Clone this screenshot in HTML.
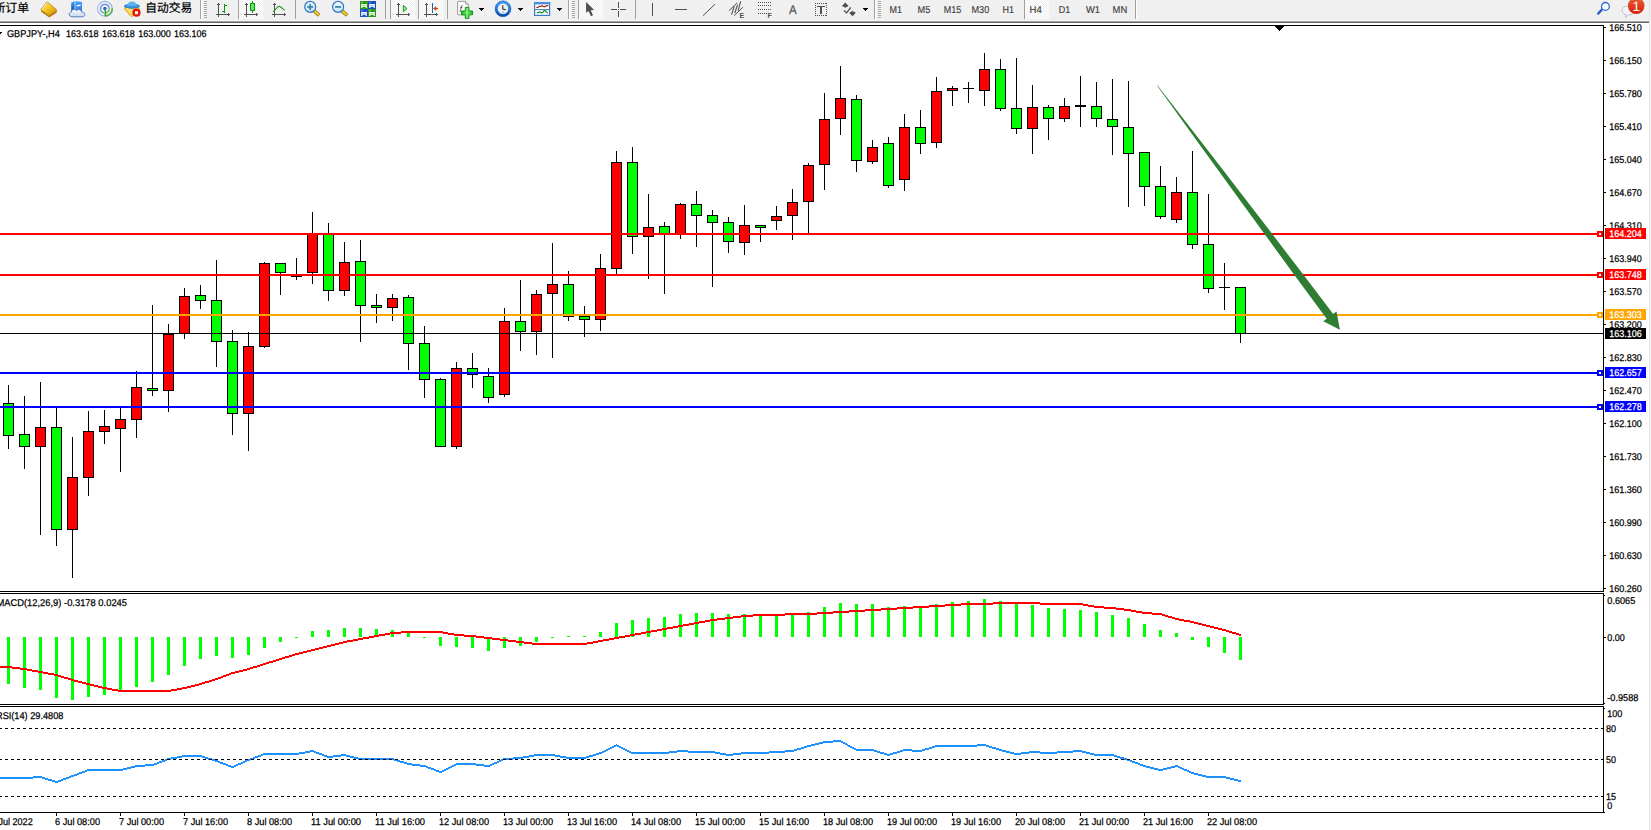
<!DOCTYPE html>
<html lang="zh-CN">
<head>
<meta charset="utf-8">
<title>GBPJPY-,H4</title>
<style>
html,body{margin:0;padding:0;background:#fff;overflow:hidden}
body{width:1651px;height:830px;position:relative;font-family:"Liberation Sans", "Noto Sans CJK SC", sans-serif}
svg{position:absolute;left:0;top:0;display:block}
text{font-family:"Liberation Sans", "Noto Sans CJK SC", sans-serif;white-space:pre}
</style>
</head>
<body>
<svg width="1651" height="830" viewBox="0 0 1651 830" text-rendering="geometricPrecision">
<g shape-rendering="crispEdges">
<rect x="0" y="23" width="1649" height="807" fill="#fff"/>
<rect x="1649" y="0" width="1" height="830" fill="#e3e3e3"/>
<rect x="1650" y="0" width="1" height="830" fill="#f4f4f4"/>
<rect x="0" y="25" width="1604" height="1" fill="#000" />
<rect x="0" y="591" width="1604" height="1" fill="#000" />
<rect x="0" y="593" width="1604" height="1" fill="#000" />
<rect x="0" y="704" width="1604" height="1" fill="#000" />
<rect x="0" y="706" width="1604" height="1" fill="#000" />
<rect x="0" y="812" width="1604" height="1" fill="#000" />
<rect x="1603" y="25" width="1" height="567" fill="#000"/>
<rect x="1603" y="593" width="1" height="112" fill="#000"/>
<rect x="1603" y="706" width="1" height="107" fill="#000"/>
<rect x="1604" y="595" width="1" height="1" fill="#000" />
<rect x="1604" y="703" width="1" height="1" fill="#000" />
<rect x="1604" y="708" width="1" height="1" fill="#000" />
<rect x="1604" y="812" width="1" height="1" fill="#000" />
<rect x="8" y="385" width="1" height="64" fill="#000"/>
<rect x="3" y="403" width="11" height="33" fill="#000"/>
<rect x="4" y="404" width="9" height="31" fill="#00ff00"/>
<rect x="24" y="396" width="1" height="73" fill="#000"/>
<rect x="19" y="434" width="11" height="13" fill="#000"/>
<rect x="20" y="435" width="9" height="11" fill="#00ff00"/>
<rect x="40" y="382" width="1" height="153" fill="#000"/>
<rect x="35" y="427" width="11" height="20" fill="#000"/>
<rect x="36" y="428" width="9" height="18" fill="#ff0000"/>
<rect x="56" y="407" width="1" height="139" fill="#000"/>
<rect x="51" y="427" width="11" height="103" fill="#000"/>
<rect x="52" y="428" width="9" height="101" fill="#00ff00"/>
<rect x="72" y="437" width="1" height="141" fill="#000"/>
<rect x="67" y="477" width="11" height="53" fill="#000"/>
<rect x="68" y="478" width="9" height="51" fill="#ff0000"/>
<rect x="88" y="411" width="1" height="85" fill="#000"/>
<rect x="83" y="431" width="11" height="47" fill="#000"/>
<rect x="84" y="432" width="9" height="45" fill="#ff0000"/>
<rect x="104" y="410" width="1" height="34" fill="#000"/>
<rect x="99" y="426" width="11" height="6" fill="#000"/>
<rect x="100" y="427" width="9" height="4" fill="#ff0000"/>
<rect x="120" y="407" width="1" height="65" fill="#000"/>
<rect x="115" y="419" width="11" height="10" fill="#000"/>
<rect x="116" y="420" width="9" height="8" fill="#ff0000"/>
<rect x="136" y="371" width="1" height="67" fill="#000"/>
<rect x="131" y="387" width="11" height="33" fill="#000"/>
<rect x="132" y="388" width="9" height="31" fill="#ff0000"/>
<rect x="152" y="305" width="1" height="91" fill="#000"/>
<rect x="147" y="388" width="11" height="3" fill="#000"/>
<rect x="148" y="389" width="9" height="1" fill="#00ff00"/>
<rect x="168" y="324" width="1" height="88" fill="#000"/>
<rect x="163" y="334" width="11" height="57" fill="#000"/>
<rect x="164" y="335" width="9" height="55" fill="#ff0000"/>
<rect x="184" y="288" width="1" height="51" fill="#000"/>
<rect x="179" y="296" width="11" height="38" fill="#000"/>
<rect x="180" y="297" width="9" height="36" fill="#ff0000"/>
<rect x="200" y="285" width="1" height="24" fill="#000"/>
<rect x="195" y="295" width="11" height="6" fill="#000"/>
<rect x="196" y="296" width="9" height="4" fill="#00ff00"/>
<rect x="216" y="260" width="1" height="107" fill="#000"/>
<rect x="211" y="300" width="11" height="42" fill="#000"/>
<rect x="212" y="301" width="9" height="40" fill="#00ff00"/>
<rect x="232" y="330" width="1" height="105" fill="#000"/>
<rect x="227" y="341" width="11" height="73" fill="#000"/>
<rect x="228" y="342" width="9" height="71" fill="#00ff00"/>
<rect x="248" y="332" width="1" height="119" fill="#000"/>
<rect x="243" y="346" width="11" height="68" fill="#000"/>
<rect x="244" y="347" width="9" height="66" fill="#ff0000"/>
<rect x="264" y="262" width="1" height="86" fill="#000"/>
<rect x="259" y="263" width="11" height="84" fill="#000"/>
<rect x="260" y="264" width="9" height="82" fill="#ff0000"/>
<rect x="280" y="263" width="1" height="32" fill="#000"/>
<rect x="275" y="263" width="11" height="10" fill="#000"/>
<rect x="276" y="264" width="9" height="8" fill="#00ff00"/>
<rect x="296" y="258" width="1" height="22" fill="#000"/>
<rect x="291" y="276" width="11" height="1" fill="#000" />
<rect x="312" y="212" width="1" height="72" fill="#000"/>
<rect x="307" y="233" width="11" height="40" fill="#000"/>
<rect x="308" y="234" width="9" height="38" fill="#ff0000"/>
<rect x="328" y="223" width="1" height="78" fill="#000"/>
<rect x="323" y="233" width="11" height="58" fill="#000"/>
<rect x="324" y="234" width="9" height="56" fill="#00ff00"/>
<rect x="344" y="242" width="1" height="54" fill="#000"/>
<rect x="339" y="262" width="11" height="29" fill="#000"/>
<rect x="340" y="263" width="9" height="27" fill="#ff0000"/>
<rect x="360" y="240" width="1" height="102" fill="#000"/>
<rect x="355" y="261" width="11" height="45" fill="#000"/>
<rect x="356" y="262" width="9" height="43" fill="#00ff00"/>
<rect x="376" y="294" width="1" height="29" fill="#000"/>
<rect x="371" y="305" width="11" height="3" fill="#000"/>
<rect x="372" y="306" width="9" height="1" fill="#00ff00"/>
<rect x="392" y="294" width="1" height="27" fill="#000"/>
<rect x="387" y="298" width="11" height="10" fill="#000"/>
<rect x="388" y="299" width="9" height="8" fill="#ff0000"/>
<rect x="408" y="295" width="1" height="75" fill="#000"/>
<rect x="403" y="297" width="11" height="47" fill="#000"/>
<rect x="404" y="298" width="9" height="45" fill="#00ff00"/>
<rect x="424" y="326" width="1" height="72" fill="#000"/>
<rect x="419" y="343" width="11" height="37" fill="#000"/>
<rect x="420" y="344" width="9" height="35" fill="#00ff00"/>
<rect x="440" y="378" width="1" height="69" fill="#000"/>
<rect x="435" y="379" width="11" height="68" fill="#000"/>
<rect x="436" y="380" width="9" height="66" fill="#00ff00"/>
<rect x="456" y="362" width="1" height="87" fill="#000"/>
<rect x="451" y="368" width="11" height="79" fill="#000"/>
<rect x="452" y="369" width="9" height="77" fill="#ff0000"/>
<rect x="472" y="353" width="1" height="35" fill="#000"/>
<rect x="467" y="368" width="11" height="7" fill="#000"/>
<rect x="468" y="369" width="9" height="5" fill="#00ff00"/>
<rect x="488" y="368" width="1" height="35" fill="#000"/>
<rect x="483" y="376" width="11" height="22" fill="#000"/>
<rect x="484" y="377" width="9" height="20" fill="#00ff00"/>
<rect x="504" y="308" width="1" height="89" fill="#000"/>
<rect x="499" y="321" width="11" height="74" fill="#000"/>
<rect x="500" y="322" width="9" height="72" fill="#ff0000"/>
<rect x="520" y="280" width="1" height="71" fill="#000"/>
<rect x="515" y="321" width="11" height="11" fill="#000"/>
<rect x="516" y="322" width="9" height="9" fill="#00ff00"/>
<rect x="536" y="290" width="1" height="65" fill="#000"/>
<rect x="531" y="294" width="11" height="38" fill="#000"/>
<rect x="532" y="295" width="9" height="36" fill="#ff0000"/>
<rect x="552" y="243" width="1" height="115" fill="#000"/>
<rect x="547" y="284" width="11" height="10" fill="#000"/>
<rect x="548" y="285" width="9" height="8" fill="#ff0000"/>
<rect x="568" y="271" width="1" height="50" fill="#000"/>
<rect x="563" y="284" width="11" height="33" fill="#000"/>
<rect x="564" y="285" width="9" height="31" fill="#00ff00"/>
<rect x="584" y="306" width="1" height="31" fill="#000"/>
<rect x="579" y="316" width="11" height="4" fill="#000"/>
<rect x="580" y="317" width="9" height="2" fill="#00ff00"/>
<rect x="600" y="254" width="1" height="77" fill="#000"/>
<rect x="595" y="268" width="11" height="52" fill="#000"/>
<rect x="596" y="269" width="9" height="50" fill="#ff0000"/>
<rect x="616" y="151" width="1" height="123" fill="#000"/>
<rect x="611" y="162" width="11" height="107" fill="#000"/>
<rect x="612" y="163" width="9" height="105" fill="#ff0000"/>
<rect x="632" y="147" width="1" height="107" fill="#000"/>
<rect x="627" y="162" width="11" height="75" fill="#000"/>
<rect x="628" y="163" width="9" height="73" fill="#00ff00"/>
<rect x="648" y="194" width="1" height="85" fill="#000"/>
<rect x="643" y="227" width="11" height="10" fill="#000"/>
<rect x="644" y="228" width="9" height="8" fill="#ff0000"/>
<rect x="664" y="222" width="1" height="72" fill="#000"/>
<rect x="659" y="226" width="11" height="8" fill="#000"/>
<rect x="660" y="227" width="9" height="6" fill="#00ff00"/>
<rect x="680" y="203" width="1" height="36" fill="#000"/>
<rect x="675" y="204" width="11" height="31" fill="#000"/>
<rect x="676" y="205" width="9" height="29" fill="#ff0000"/>
<rect x="696" y="191" width="1" height="56" fill="#000"/>
<rect x="691" y="204" width="11" height="12" fill="#000"/>
<rect x="692" y="205" width="9" height="10" fill="#00ff00"/>
<rect x="712" y="210" width="1" height="77" fill="#000"/>
<rect x="707" y="215" width="11" height="8" fill="#000"/>
<rect x="708" y="216" width="9" height="6" fill="#00ff00"/>
<rect x="728" y="217" width="1" height="36" fill="#000"/>
<rect x="723" y="222" width="11" height="20" fill="#000"/>
<rect x="724" y="223" width="9" height="18" fill="#00ff00"/>
<rect x="744" y="205" width="1" height="50" fill="#000"/>
<rect x="739" y="225" width="11" height="18" fill="#000"/>
<rect x="740" y="226" width="9" height="16" fill="#ff0000"/>
<rect x="760" y="225" width="1" height="17" fill="#000"/>
<rect x="755" y="225" width="11" height="3" fill="#000"/>
<rect x="756" y="226" width="9" height="1" fill="#00ff00"/>
<rect x="776" y="206" width="1" height="24" fill="#000"/>
<rect x="771" y="216" width="11" height="5" fill="#000"/>
<rect x="772" y="217" width="9" height="3" fill="#ff0000"/>
<rect x="792" y="189" width="1" height="51" fill="#000"/>
<rect x="787" y="202" width="11" height="14" fill="#000"/>
<rect x="788" y="203" width="9" height="12" fill="#ff0000"/>
<rect x="808" y="163" width="1" height="70" fill="#000"/>
<rect x="803" y="165" width="11" height="37" fill="#000"/>
<rect x="804" y="166" width="9" height="35" fill="#ff0000"/>
<rect x="824" y="93" width="1" height="97" fill="#000"/>
<rect x="819" y="119" width="11" height="46" fill="#000"/>
<rect x="820" y="120" width="9" height="44" fill="#ff0000"/>
<rect x="840" y="66" width="1" height="69" fill="#000"/>
<rect x="835" y="98" width="11" height="21" fill="#000"/>
<rect x="836" y="99" width="9" height="19" fill="#ff0000"/>
<rect x="856" y="95" width="1" height="77" fill="#000"/>
<rect x="851" y="99" width="11" height="62" fill="#000"/>
<rect x="852" y="100" width="9" height="60" fill="#00ff00"/>
<rect x="872" y="140" width="1" height="24" fill="#000"/>
<rect x="867" y="147" width="11" height="15" fill="#000"/>
<rect x="868" y="148" width="9" height="13" fill="#ff0000"/>
<rect x="888" y="137" width="1" height="51" fill="#000"/>
<rect x="883" y="143" width="11" height="43" fill="#000"/>
<rect x="884" y="144" width="9" height="41" fill="#00ff00"/>
<rect x="904" y="114" width="1" height="77" fill="#000"/>
<rect x="899" y="127" width="11" height="53" fill="#000"/>
<rect x="900" y="128" width="9" height="51" fill="#ff0000"/>
<rect x="920" y="110" width="1" height="44" fill="#000"/>
<rect x="915" y="127" width="11" height="17" fill="#000"/>
<rect x="916" y="128" width="9" height="15" fill="#00ff00"/>
<rect x="936" y="77" width="1" height="71" fill="#000"/>
<rect x="931" y="91" width="11" height="52" fill="#000"/>
<rect x="932" y="92" width="9" height="50" fill="#ff0000"/>
<rect x="952" y="86" width="1" height="20" fill="#000"/>
<rect x="947" y="88" width="11" height="3" fill="#000"/>
<rect x="948" y="89" width="9" height="1" fill="#ff0000"/>
<rect x="968" y="82" width="1" height="21" fill="#000"/>
<rect x="963" y="88" width="11" height="1" fill="#000" />
<rect x="984" y="53" width="1" height="53" fill="#000"/>
<rect x="979" y="69" width="11" height="22" fill="#000"/>
<rect x="980" y="70" width="9" height="20" fill="#ff0000"/>
<rect x="1000" y="59" width="1" height="52" fill="#000"/>
<rect x="995" y="69" width="11" height="40" fill="#000"/>
<rect x="996" y="70" width="9" height="38" fill="#00ff00"/>
<rect x="1016" y="58" width="1" height="76" fill="#000"/>
<rect x="1011" y="108" width="11" height="21" fill="#000"/>
<rect x="1012" y="109" width="9" height="19" fill="#00ff00"/>
<rect x="1032" y="85" width="1" height="69" fill="#000"/>
<rect x="1027" y="107" width="11" height="22" fill="#000"/>
<rect x="1028" y="108" width="9" height="20" fill="#ff0000"/>
<rect x="1048" y="105" width="1" height="35" fill="#000"/>
<rect x="1043" y="107" width="11" height="12" fill="#000"/>
<rect x="1044" y="108" width="9" height="10" fill="#00ff00"/>
<rect x="1064" y="98" width="1" height="24" fill="#000"/>
<rect x="1059" y="106" width="11" height="13" fill="#000"/>
<rect x="1060" y="107" width="9" height="11" fill="#ff0000"/>
<rect x="1080" y="76" width="1" height="51" fill="#000"/>
<rect x="1075" y="105" width="11" height="2" fill="#000"/>
<rect x="1096" y="82" width="1" height="45" fill="#000"/>
<rect x="1091" y="106" width="11" height="13" fill="#000"/>
<rect x="1092" y="107" width="9" height="11" fill="#00ff00"/>
<rect x="1112" y="79" width="1" height="76" fill="#000"/>
<rect x="1107" y="119" width="11" height="8" fill="#000"/>
<rect x="1108" y="120" width="9" height="6" fill="#00ff00"/>
<rect x="1128" y="81" width="1" height="126" fill="#000"/>
<rect x="1123" y="127" width="11" height="27" fill="#000"/>
<rect x="1124" y="128" width="9" height="25" fill="#00ff00"/>
<rect x="1144" y="152" width="1" height="54" fill="#000"/>
<rect x="1139" y="152" width="11" height="35" fill="#000"/>
<rect x="1140" y="153" width="9" height="33" fill="#00ff00"/>
<rect x="1160" y="166" width="1" height="53" fill="#000"/>
<rect x="1155" y="186" width="11" height="31" fill="#000"/>
<rect x="1156" y="187" width="9" height="29" fill="#00ff00"/>
<rect x="1176" y="177" width="1" height="46" fill="#000"/>
<rect x="1171" y="192" width="11" height="28" fill="#000"/>
<rect x="1172" y="193" width="9" height="26" fill="#ff0000"/>
<rect x="1192" y="151" width="1" height="98" fill="#000"/>
<rect x="1187" y="192" width="11" height="53" fill="#000"/>
<rect x="1188" y="193" width="9" height="51" fill="#00ff00"/>
<rect x="1208" y="194" width="1" height="99" fill="#000"/>
<rect x="1203" y="244" width="11" height="45" fill="#000"/>
<rect x="1204" y="245" width="9" height="43" fill="#00ff00"/>
<rect x="1224" y="263" width="1" height="47" fill="#000"/>
<rect x="1219" y="287" width="11" height="1" fill="#000" />
<rect x="1240" y="287" width="1" height="56" fill="#000"/>
<rect x="1235" y="287" width="11" height="47" fill="#000"/>
<rect x="1236" y="288" width="9" height="45" fill="#00ff00"/>
<rect x="0" y="233" width="1603" height="2" fill="#ff0000" />
<rect x="0" y="274" width="1603" height="2" fill="#ff0000" />
<rect x="0" y="314" width="1603" height="2" fill="#ffa500" />
<rect x="0" y="372" width="1603" height="2" fill="#0000ff" />
<rect x="0" y="406" width="1603" height="2" fill="#0000ff" />
<rect x="0" y="333" width="1603" height="1" fill="#000" />
<rect x="7" y="637" width="3" height="47" fill="#00ff00"/>
<rect x="23" y="637" width="3" height="51" fill="#00ff00"/>
<rect x="39" y="637" width="3" height="53" fill="#00ff00"/>
<rect x="55" y="637" width="3" height="61" fill="#00ff00"/>
<rect x="71" y="637" width="3" height="63" fill="#00ff00"/>
<rect x="87" y="637" width="3" height="60" fill="#00ff00"/>
<rect x="103" y="637" width="3" height="58" fill="#00ff00"/>
<rect x="119" y="637" width="3" height="55" fill="#00ff00"/>
<rect x="135" y="637" width="3" height="50" fill="#00ff00"/>
<rect x="151" y="637" width="3" height="45" fill="#00ff00"/>
<rect x="167" y="637" width="3" height="38" fill="#00ff00"/>
<rect x="183" y="637" width="3" height="29" fill="#00ff00"/>
<rect x="199" y="637" width="3" height="22" fill="#00ff00"/>
<rect x="215" y="637" width="3" height="19" fill="#00ff00"/>
<rect x="231" y="637" width="3" height="21" fill="#00ff00"/>
<rect x="247" y="637" width="3" height="18" fill="#00ff00"/>
<rect x="263" y="637" width="3" height="11" fill="#00ff00"/>
<rect x="279" y="637" width="3" height="5" fill="#00ff00"/>
<rect x="295" y="637" width="3" height="1" fill="#00ff00"/>
<rect x="311" y="631" width="3" height="6" fill="#00ff00"/>
<rect x="327" y="630" width="3" height="7" fill="#00ff00"/>
<rect x="343" y="628" width="3" height="9" fill="#00ff00"/>
<rect x="359" y="628" width="3" height="9" fill="#00ff00"/>
<rect x="375" y="629" width="3" height="8" fill="#00ff00"/>
<rect x="391" y="630" width="3" height="7" fill="#00ff00"/>
<rect x="407" y="633" width="3" height="4" fill="#00ff00"/>
<rect x="423" y="637" width="3" height="1" fill="#00ff00"/>
<rect x="439" y="637" width="3" height="9" fill="#00ff00"/>
<rect x="455" y="637" width="3" height="10" fill="#00ff00"/>
<rect x="471" y="637" width="3" height="11" fill="#00ff00"/>
<rect x="487" y="637" width="3" height="14" fill="#00ff00"/>
<rect x="503" y="637" width="3" height="11" fill="#00ff00"/>
<rect x="519" y="637" width="3" height="9" fill="#00ff00"/>
<rect x="535" y="637" width="3" height="5" fill="#00ff00"/>
<rect x="551" y="637" width="3" height="1" fill="#00ff00"/>
<rect x="567" y="636" width="3" height="1" fill="#00ff00"/>
<rect x="583" y="636" width="3" height="1" fill="#00ff00"/>
<rect x="599" y="632" width="3" height="5" fill="#00ff00"/>
<rect x="615" y="623" width="3" height="14" fill="#00ff00"/>
<rect x="631" y="620" width="3" height="17" fill="#00ff00"/>
<rect x="647" y="618" width="3" height="19" fill="#00ff00"/>
<rect x="663" y="617" width="3" height="20" fill="#00ff00"/>
<rect x="679" y="614" width="3" height="23" fill="#00ff00"/>
<rect x="695" y="613" width="3" height="24" fill="#00ff00"/>
<rect x="711" y="613" width="3" height="24" fill="#00ff00"/>
<rect x="727" y="614" width="3" height="23" fill="#00ff00"/>
<rect x="743" y="614" width="3" height="23" fill="#00ff00"/>
<rect x="759" y="615" width="3" height="22" fill="#00ff00"/>
<rect x="775" y="615" width="3" height="22" fill="#00ff00"/>
<rect x="791" y="615" width="3" height="22" fill="#00ff00"/>
<rect x="807" y="612" width="3" height="25" fill="#00ff00"/>
<rect x="823" y="607" width="3" height="30" fill="#00ff00"/>
<rect x="839" y="603" width="3" height="34" fill="#00ff00"/>
<rect x="855" y="604" width="3" height="33" fill="#00ff00"/>
<rect x="871" y="604" width="3" height="33" fill="#00ff00"/>
<rect x="887" y="607" width="3" height="30" fill="#00ff00"/>
<rect x="903" y="606" width="3" height="31" fill="#00ff00"/>
<rect x="919" y="606" width="3" height="31" fill="#00ff00"/>
<rect x="935" y="604" width="3" height="33" fill="#00ff00"/>
<rect x="951" y="602" width="3" height="35" fill="#00ff00"/>
<rect x="967" y="601" width="3" height="36" fill="#00ff00"/>
<rect x="983" y="599" width="3" height="38" fill="#00ff00"/>
<rect x="999" y="601" width="3" height="36" fill="#00ff00"/>
<rect x="1015" y="603" width="3" height="34" fill="#00ff00"/>
<rect x="1031" y="605" width="3" height="32" fill="#00ff00"/>
<rect x="1047" y="608" width="3" height="29" fill="#00ff00"/>
<rect x="1063" y="609" width="3" height="28" fill="#00ff00"/>
<rect x="1079" y="610" width="3" height="27" fill="#00ff00"/>
<rect x="1095" y="612" width="3" height="25" fill="#00ff00"/>
<rect x="1111" y="615" width="3" height="22" fill="#00ff00"/>
<rect x="1127" y="618" width="3" height="19" fill="#00ff00"/>
<rect x="1143" y="624" width="3" height="13" fill="#00ff00"/>
<rect x="1159" y="630" width="3" height="7" fill="#00ff00"/>
<rect x="1175" y="633" width="3" height="4" fill="#00ff00"/>
<rect x="1191" y="637" width="3" height="3" fill="#00ff00"/>
<rect x="1207" y="637" width="3" height="10" fill="#00ff00"/>
<rect x="1223" y="637" width="3" height="16" fill="#00ff00"/>
<rect x="1239" y="637" width="3" height="23" fill="#00ff00"/>
</g>
<path d="M0 666h12v2h-12zM12 667h8v2h-8zM20 668h7v2h-7zM27 669h5v2h-5zM32 670h6v2h-6zM38 671h5v2h-5zM43 672h5v2h-5zM48 673h6v2h-6zM54 674h4v2h-4zM58 675h3v2h-3zM61 676h3v2h-3zM64 677h4v2h-4zM68 678h3v2h-3zM71 679h3v2h-3zM74 680h4v2h-4zM78 681h4v2h-4zM82 682h4v2h-4zM86 683h4v2h-4zM90 684h4v2h-4zM94 685h4v2h-4zM98 686h4v2h-4zM102 687h5v2h-5zM107 688h5v2h-5zM112 689h6v2h-6zM118 690h53v2h-53zM171 689h6v2h-6zM177 688h5v2h-5zM182 687h5v2h-5zM187 686h4v2h-4zM191 685h4v2h-4zM195 684h4v2h-4zM199 683h3v2h-3zM202 682h3v2h-3zM205 681h4v2h-4zM209 680h3v2h-3zM212 679h3v2h-3zM215 678h3v2h-3zM218 677h3v2h-3zM221 676h2v2h-2zM223 675h3v2h-3zM226 674h3v2h-3zM229 673h2v2h-2zM231 672h4v2h-4zM235 671h4v2h-4zM239 670h4v2h-4zM243 669h4v2h-4zM247 668h3v2h-3zM250 667h3v2h-3zM253 666h4v2h-4zM257 665h3v2h-3zM260 664h3v2h-3zM263 663h3v2h-3zM266 662h3v2h-3zM269 661h4v2h-4zM273 660h3v2h-3zM276 659h3v2h-3zM279 658h3v2h-3zM282 657h3v2h-3zM285 656h4v2h-4zM289 655h3v2h-3zM292 654h3v2h-3zM295 653h4v2h-4zM299 652h4v2h-4zM303 651h4v2h-4zM307 650h4v2h-4zM311 649h4v2h-4zM315 648h4v2h-4zM319 647h4v2h-4zM323 646h4v2h-4zM327 645h4v2h-4zM331 644h4v2h-4zM335 643h4v2h-4zM339 642h4v2h-4zM343 641h4v2h-4zM347 640h6v2h-6zM353 639h5v2h-5zM358 638h5v2h-5zM363 637h6v2h-6zM369 636h5v2h-5zM374 635h5v2h-5zM379 634h6v2h-6zM385 633h5v2h-5zM390 632h11v2h-11zM401 631h42v2h-42zM443 632h5v2h-5zM448 633h6v2h-6zM454 634h10v2h-10zM464 635h12v2h-12zM476 636h8v2h-8zM484 637h8v2h-8zM492 638h8v2h-8zM500 639h8v2h-8zM508 640h8v2h-8zM516 641h8v2h-8zM524 642h8v2h-8zM532 643h55v2h-55zM587 642h6v2h-6zM593 641h5v2h-5zM598 640h5v2h-5zM603 639h6v2h-6zM609 638h5v2h-5zM614 637h5v2h-5zM619 636h6v2h-6zM625 635h5v2h-5zM630 634h5v2h-5zM635 633h6v2h-6zM641 632h5v2h-5zM646 631h5v2h-5zM651 630h6v2h-6zM657 629h5v2h-5zM662 628h5v2h-5zM667 627h6v2h-6zM673 626h5v2h-5zM678 625h5v2h-5zM683 624h6v2h-6zM689 623h5v2h-5zM694 622h5v2h-5zM699 621h6v2h-6zM705 620h5v2h-5zM710 619h7v2h-7zM717 618h8v2h-8zM725 617h8v2h-8zM733 616h8v2h-8zM741 615h12v2h-12zM753 614h32v2h-32zM785 613h32v2h-32zM817 612h16v2h-16zM833 611h16v2h-16zM849 610h16v2h-16zM865 609h16v2h-16zM881 608h16v2h-16zM897 607h16v2h-16zM913 606h16v2h-16zM929 605h16v2h-16zM945 604h16v2h-16zM961 603h32v2h-32zM993 602h47v2h-47zM1040 603h43v2h-43zM1083 604h5v2h-5zM1088 605h6v2h-6zM1094 606h10v2h-10zM1104 607h12v2h-12zM1116 608h8v2h-8zM1124 609h7v2h-7zM1131 610h5v2h-5zM1136 611h6v2h-6zM1142 612h10v2h-10zM1152 613h10v2h-10zM1162 614h3v2h-3zM1165 615h3v2h-3zM1168 616h4v2h-4zM1172 617h3v2h-3zM1175 618h4v2h-4zM1179 619h5v2h-5zM1184 620h6v2h-6zM1190 621h4v2h-4zM1194 622h4v2h-4zM1198 623h4v2h-4zM1202 624h4v2h-4zM1206 625h4v2h-4zM1210 626h4v2h-4zM1214 627h4v2h-4zM1218 628h4v2h-4zM1222 629h4v2h-4zM1226 630h3v2h-3zM1229 631h3v2h-3zM1232 632h4v2h-4zM1236 633h3v2h-3zM1239 634h2v2h-2z" fill="#ff0000" shape-rendering="crispEdges"/>
<path d="M0 777h33v2h-33zM33 776h9v2h-9zM42 777h3v2h-3zM45 778h3v2h-3zM48 779h4v2h-4zM52 780h3v2h-3zM55 781h3v2h-3zM58 780h3v2h-3zM61 779h2v2h-2zM63 778h3v2h-3zM66 777h3v2h-3zM69 776h2v2h-2zM71 775h3v2h-3zM74 774h3v2h-3zM77 773h2v2h-2zM79 772h3v2h-3zM82 771h3v2h-3zM85 770h2v2h-2zM87 769h36v2h-36zM123 768h4v2h-4zM127 767h4v2h-4zM131 766h4v2h-4zM135 765h10v2h-10zM145 764h9v2h-9zM154 763h3v2h-3zM157 762h2v2h-2zM159 761h3v2h-3zM162 760h3v2h-3zM165 759h2v2h-2zM167 758h4v2h-4zM171 757h6v2h-6zM177 756h5v2h-5zM182 755h20v2h-20zM202 756h3v2h-3zM205 757h3v2h-3zM208 758h4v2h-4zM212 759h3v2h-3zM215 760h3v2h-3zM218 761h2v2h-2zM220 762h3v2h-3zM223 763h3v2h-3zM226 764h2v2h-2zM228 765h3v2h-3zM231 766h3v2h-3zM234 765h2v2h-2zM236 764h2v2h-2zM238 763h3v2h-3zM241 762h2v2h-2zM243 761h2v2h-2zM245 760h2v2h-2zM247 759h3v2h-3zM250 758h3v2h-3zM253 757h2v2h-2zM255 756h3v2h-3zM258 755h3v2h-3zM261 754h2v2h-2zM263 753h36v2h-36zM299 752h6v2h-6zM305 751h5v2h-5zM310 750h4v2h-4zM314 751h2v2h-2zM316 752h3v2h-3zM319 753h3v2h-3zM322 754h2v2h-2zM324 755h3v2h-3zM327 756h6v2h-6zM333 755h8v2h-8zM341 754h5v2h-5zM346 755h4v2h-4zM350 756h4v2h-4zM354 757h4v2h-4zM358 758h36v2h-36zM394 759h3v2h-3zM397 760h3v2h-3zM400 761h4v2h-4zM404 762h3v2h-3zM407 763h5v2h-5zM412 764h8v2h-8zM420 765h6v2h-6zM426 766h2v2h-2zM428 767h3v2h-3zM431 768h3v2h-3zM434 769h2v2h-2zM436 770h3v2h-3zM439 771h3v2h-3zM442 770h2v2h-2zM444 769h2v2h-2zM446 768h2v2h-2zM448 767h2v2h-2zM450 766h2v2h-2zM452 765h2v2h-2zM454 764h2v2h-2zM456 763h20v2h-20zM476 764h8v2h-8zM484 765h6v2h-6zM490 764h2v2h-2zM492 763h2v2h-2zM494 762h3v2h-3zM497 761h2v2h-2zM499 760h2v2h-2zM501 759h2v2h-2zM503 758h10v2h-10zM513 757h10v2h-10zM523 756h6v2h-6zM529 755h5v2h-5zM534 754h21v2h-21zM555 755h5v2h-5zM560 756h6v2h-6zM566 757h20v2h-20zM586 756h3v2h-3zM589 755h4v2h-4zM593 754h3v2h-3zM596 753h3v2h-3zM599 752h3v2h-3zM602 751h2v2h-2zM604 750h2v2h-2zM606 749h2v2h-2zM608 748h2v2h-2zM610 747h2v2h-2zM612 746h2v2h-2zM614 745h2v2h-2zM616 744h1v2h-1zM617 745h2v2h-2zM619 746h2v2h-2zM621 747h2v2h-2zM623 748h2v2h-2zM625 749h2v2h-2zM627 750h2v2h-2zM629 751h2v2h-2zM631 752h38v2h-38zM669 751h8v2h-8zM677 750h11v2h-11zM688 751h27v2h-27zM715 752h5v2h-5zM720 753h6v2h-6zM726 754h7v2h-7zM733 753h8v2h-8zM741 752h28v2h-28zM769 751h16v2h-16zM785 750h9v2h-9zM794 749h3v2h-3zM797 748h4v2h-4zM801 747h3v2h-3zM804 746h3v2h-3zM807 745h4v2h-4zM811 744h4v2h-4zM815 743h4v2h-4zM819 742h4v2h-4zM823 741h10v2h-10zM833 740h8v2h-8zM841 741h2v2h-2zM843 742h2v2h-2zM845 743h2v2h-2zM847 744h1v2h-1zM848 745h2v2h-2zM850 746h2v2h-2zM852 747h2v2h-2zM854 748h2v2h-2zM856 749h18v2h-18zM874 750h3v2h-3zM877 751h3v2h-3zM880 752h4v2h-4zM884 753h3v2h-3zM887 754h3v2h-3zM890 753h3v2h-3zM893 752h4v2h-4zM897 751h3v2h-3zM900 750h3v2h-3zM903 749h9v2h-9zM912 750h10v2h-10zM922 749h3v2h-3zM925 748h4v2h-4zM929 747h3v2h-3zM932 746h3v2h-3zM935 745h42v2h-42zM977 744h9v2h-9zM986 745h3v2h-3zM989 746h3v2h-3zM992 747h4v2h-4zM996 748h3v2h-3zM999 749h3v2h-3zM1002 750h4v2h-4zM1006 751h4v2h-4zM1010 752h4v2h-4zM1014 753h7v2h-7zM1021 752h8v2h-8zM1029 751h11v2h-11zM1040 752h17v2h-17zM1057 751h16v2h-16zM1073 750h9v2h-9zM1082 751h4v2h-4zM1086 752h4v2h-4zM1090 753h4v2h-4zM1094 754h20v2h-20zM1114 755h3v2h-3zM1117 756h3v2h-3zM1120 757h4v2h-4zM1124 758h3v2h-3zM1127 759h3v2h-3zM1130 760h2v2h-2zM1132 761h3v2h-3zM1135 762h3v2h-3zM1138 763h2v2h-2zM1140 764h3v2h-3zM1143 765h3v2h-3zM1146 766h4v2h-4zM1150 767h4v2h-4zM1154 768h4v2h-4zM1158 769h5v2h-5zM1163 768h4v2h-4zM1167 767h4v2h-4zM1171 766h4v2h-4zM1175 765h3v2h-3zM1178 766h2v2h-2zM1180 767h2v2h-2zM1182 768h2v2h-2zM1184 769h3v2h-3zM1187 770h2v2h-2zM1189 771h2v2h-2zM1191 772h3v2h-3zM1194 773h4v2h-4zM1198 774h4v2h-4zM1202 775h4v2h-4zM1206 776h20v2h-20zM1226 777h4v2h-4zM1230 778h4v2h-4zM1234 779h4v2h-4zM1238 780h3v2h-3z" fill="#1e90ff" shape-rendering="crispEdges"/>
<g shape-rendering="crispEdges">
<line x1="-1" y1="728.5" x2="1603" y2="728.5" stroke="#000" stroke-width="1" stroke-dasharray="3 3"/>
<line x1="-1" y1="759.5" x2="1603" y2="759.5" stroke="#000" stroke-width="1" stroke-dasharray="3 3"/>
<line x1="-1" y1="796.5" x2="1603" y2="796.5" stroke="#000" stroke-width="1" stroke-dasharray="3 3"/>
<rect x="1604" y="27" width="2" height="1" fill="#000" />
<rect x="1604" y="60" width="2" height="1" fill="#000" />
<rect x="1604" y="93" width="2" height="1" fill="#000" />
<rect x="1604" y="126" width="2" height="1" fill="#000" />
<rect x="1604" y="159" width="2" height="1" fill="#000" />
<rect x="1604" y="192" width="2" height="1" fill="#000" />
<rect x="1604" y="225" width="2" height="1" fill="#000" />
<rect x="1604" y="258" width="2" height="1" fill="#000" />
<rect x="1604" y="291" width="2" height="1" fill="#000" />
<rect x="1604" y="324" width="2" height="1" fill="#000" />
<rect x="1604" y="357" width="2" height="1" fill="#000" />
<rect x="1604" y="390" width="2" height="1" fill="#000" />
<rect x="1604" y="423" width="2" height="1" fill="#000" />
<rect x="1604" y="456" width="2" height="1" fill="#000" />
<rect x="1604" y="489" width="2" height="1" fill="#000" />
<rect x="1604" y="522" width="2" height="1" fill="#000" />
<rect x="1604" y="555" width="2" height="1" fill="#000" />
<rect x="1604" y="588" width="2" height="1" fill="#000" />
</g>
<g font-family='"Liberation Sans", "Noto Sans CJK SC", sans-serif'>
<text x="1609.3" y="31" font-size="9.8" fill="#000" stroke="#000" stroke-width="0.25" text-anchor="start" textLength="32.6" lengthAdjust="spacingAndGlyphs" >166.510</text>
<text x="1609.3" y="64" font-size="9.8" fill="#000" stroke="#000" stroke-width="0.25" text-anchor="start" textLength="32.6" lengthAdjust="spacingAndGlyphs" >166.150</text>
<text x="1609.3" y="97" font-size="9.8" fill="#000" stroke="#000" stroke-width="0.25" text-anchor="start" textLength="32.6" lengthAdjust="spacingAndGlyphs" >165.780</text>
<text x="1609.3" y="130" font-size="9.8" fill="#000" stroke="#000" stroke-width="0.25" text-anchor="start" textLength="32.6" lengthAdjust="spacingAndGlyphs" >165.410</text>
<text x="1609.3" y="163" font-size="9.8" fill="#000" stroke="#000" stroke-width="0.25" text-anchor="start" textLength="32.6" lengthAdjust="spacingAndGlyphs" >165.040</text>
<text x="1609.3" y="196" font-size="9.8" fill="#000" stroke="#000" stroke-width="0.25" text-anchor="start" textLength="32.6" lengthAdjust="spacingAndGlyphs" >164.670</text>
<text x="1609.3" y="229" font-size="9.8" fill="#000" stroke="#000" stroke-width="0.25" text-anchor="start" textLength="32.6" lengthAdjust="spacingAndGlyphs" >164.310</text>
<text x="1609.3" y="262" font-size="9.8" fill="#000" stroke="#000" stroke-width="0.25" text-anchor="start" textLength="32.6" lengthAdjust="spacingAndGlyphs" >163.940</text>
<text x="1609.3" y="295" font-size="9.8" fill="#000" stroke="#000" stroke-width="0.25" text-anchor="start" textLength="32.6" lengthAdjust="spacingAndGlyphs" >163.570</text>
<text x="1609.3" y="328" font-size="9.8" fill="#000" stroke="#000" stroke-width="0.25" text-anchor="start" textLength="32.6" lengthAdjust="spacingAndGlyphs" >163.200</text>
<text x="1609.3" y="361" font-size="9.8" fill="#000" stroke="#000" stroke-width="0.25" text-anchor="start" textLength="32.6" lengthAdjust="spacingAndGlyphs" >162.830</text>
<text x="1609.3" y="394" font-size="9.8" fill="#000" stroke="#000" stroke-width="0.25" text-anchor="start" textLength="32.6" lengthAdjust="spacingAndGlyphs" >162.470</text>
<text x="1609.3" y="427" font-size="9.8" fill="#000" stroke="#000" stroke-width="0.25" text-anchor="start" textLength="32.6" lengthAdjust="spacingAndGlyphs" >162.100</text>
<text x="1609.3" y="460" font-size="9.8" fill="#000" stroke="#000" stroke-width="0.25" text-anchor="start" textLength="32.6" lengthAdjust="spacingAndGlyphs" >161.730</text>
<text x="1609.3" y="493" font-size="9.8" fill="#000" stroke="#000" stroke-width="0.25" text-anchor="start" textLength="32.6" lengthAdjust="spacingAndGlyphs" >161.360</text>
<text x="1609.3" y="526" font-size="9.8" fill="#000" stroke="#000" stroke-width="0.25" text-anchor="start" textLength="32.6" lengthAdjust="spacingAndGlyphs" >160.990</text>
<text x="1609.3" y="559" font-size="9.8" fill="#000" stroke="#000" stroke-width="0.25" text-anchor="start" textLength="32.6" lengthAdjust="spacingAndGlyphs" >160.630</text>
<text x="1609.3" y="592" font-size="9.8" fill="#000" stroke="#000" stroke-width="0.25" text-anchor="start" textLength="32.6" lengthAdjust="spacingAndGlyphs" >160.260</text>
<g shape-rendering="crispEdges">
<rect x="1605" y="228" width="41" height="11" fill="#ff0000"/>
<rect x="1597" y="231" width="6" height="6" fill="#ff0000"/>
<rect x="1599" y="233" width="2" height="2" fill="#fff"/>
<rect x="1605" y="269" width="41" height="11" fill="#ff0000"/>
<rect x="1597" y="272" width="6" height="6" fill="#ff0000"/>
<rect x="1599" y="274" width="2" height="2" fill="#fff"/>
<rect x="1605" y="309" width="41" height="11" fill="#ffa500"/>
<rect x="1597" y="312" width="6" height="6" fill="#ffa500"/>
<rect x="1599" y="314" width="2" height="2" fill="#fff"/>
<rect x="1605" y="367" width="41" height="11" fill="#0000ff"/>
<rect x="1597" y="370" width="6" height="6" fill="#0000ff"/>
<rect x="1599" y="372" width="2" height="2" fill="#fff"/>
<rect x="1605" y="401" width="41" height="11" fill="#0000ff"/>
<rect x="1597" y="404" width="6" height="6" fill="#0000ff"/>
<rect x="1599" y="406" width="2" height="2" fill="#fff"/>
<rect x="1605" y="328" width="41" height="11" fill="#000"/>
</g>
<text x="1609.3" y="237" font-size="9.8" fill="#fff" stroke="#fff" stroke-width="0.25" text-anchor="start" textLength="32.6" lengthAdjust="spacingAndGlyphs" >164.204</text>
<text x="1609.3" y="278" font-size="9.8" fill="#fff" stroke="#fff" stroke-width="0.25" text-anchor="start" textLength="32.6" lengthAdjust="spacingAndGlyphs" >163.748</text>
<text x="1609.3" y="318" font-size="9.8" fill="#fff" stroke="#fff" stroke-width="0.25" text-anchor="start" textLength="32.6" lengthAdjust="spacingAndGlyphs" >163.303</text>
<text x="1609.3" y="376" font-size="9.8" fill="#fff" stroke="#fff" stroke-width="0.25" text-anchor="start" textLength="32.6" lengthAdjust="spacingAndGlyphs" >162.657</text>
<text x="1609.3" y="410" font-size="9.8" fill="#fff" stroke="#fff" stroke-width="0.25" text-anchor="start" textLength="32.6" lengthAdjust="spacingAndGlyphs" >162.278</text>
<text x="1609.3" y="337" font-size="9.8" fill="#fff" stroke="#fff" stroke-width="0.25" text-anchor="start" textLength="32.6" lengthAdjust="spacingAndGlyphs" >163.106</text>
<g shape-rendering="crispEdges">
<rect x="1604" y="637" width="2" height="1" fill="#000" />
</g>
<text x="1607.3" y="604" font-size="9.8" fill="#000" stroke="#000" stroke-width="0.25" text-anchor="start" textLength="28" lengthAdjust="spacingAndGlyphs" >0.6065</text>
<text x="1607.3" y="641" font-size="9.8" fill="#000" stroke="#000" stroke-width="0.25" text-anchor="start" textLength="17.5" lengthAdjust="spacingAndGlyphs" >0.00</text>
<text x="1607.3" y="701" font-size="9.8" fill="#000" stroke="#000" stroke-width="0.25" text-anchor="start" textLength="31" lengthAdjust="spacingAndGlyphs" >-0.9588</text>
<text x="1607.3" y="717" font-size="9.8" fill="#000" stroke="#000" stroke-width="0.25" text-anchor="start" textLength="15" lengthAdjust="spacingAndGlyphs" >100</text>
<text x="1606" y="732" font-size="9.8" fill="#000" stroke="#000" stroke-width="0.25" text-anchor="start" textLength="10" lengthAdjust="spacingAndGlyphs" >80</text>
<text x="1606" y="763" font-size="9.8" fill="#000" stroke="#000" stroke-width="0.25" text-anchor="start" textLength="10" lengthAdjust="spacingAndGlyphs" >50</text>
<text x="1606" y="800" font-size="9.8" fill="#000" stroke="#000" stroke-width="0.25" text-anchor="start" textLength="10" lengthAdjust="spacingAndGlyphs" >15</text>
<text x="1607.3" y="809" font-size="9.8" fill="#000" stroke="#000" stroke-width="0.25" text-anchor="start" textLength="5" lengthAdjust="spacingAndGlyphs" >0</text>
<text x="6.9" y="37" font-size="9.8" fill="#000" stroke="#000" stroke-width="0.25" text-anchor="start" textLength="52.9" lengthAdjust="spacingAndGlyphs" >GBPJPY-,H4</text>
<text x="65.9" y="37" font-size="9.8" fill="#000" stroke="#000" stroke-width="0.25" text-anchor="start" textLength="32.6" lengthAdjust="spacingAndGlyphs" >163.618</text>
<text x="102.0" y="37" font-size="9.8" fill="#000" stroke="#000" stroke-width="0.25" text-anchor="start" textLength="32.7" lengthAdjust="spacingAndGlyphs" >163.618</text>
<text x="138.2" y="37" font-size="9.8" fill="#000" stroke="#000" stroke-width="0.25" text-anchor="start" textLength="32.7" lengthAdjust="spacingAndGlyphs" >163.000</text>
<text x="174.0" y="37" font-size="9.8" fill="#000" stroke="#000" stroke-width="0.25" text-anchor="start" textLength="32.5" lengthAdjust="spacingAndGlyphs" >163.106</text>
<g shape-rendering="crispEdges"><rect x="0" y="32" width="2" height="1"/><rect x="0" y="33" width="1" height="1"/></g>
<text x="-3.6" y="606" font-size="9.8" fill="#000" stroke="#000" stroke-width="0.25" text-anchor="start" textLength="130.6" lengthAdjust="spacingAndGlyphs" >MACD(12,26,9) -0.3178 0.0245</text>
<text x="-4" y="719" font-size="9.8" fill="#000" stroke="#000" stroke-width="0.25" text-anchor="start" textLength="67.4" lengthAdjust="spacingAndGlyphs" >RSI(14) 29.4808</text>
<g shape-rendering="crispEdges">
<rect x="56" y="813" width="1" height="3" fill="#000"/>
<rect x="120" y="813" width="1" height="3" fill="#000"/>
<rect x="184" y="813" width="1" height="3" fill="#000"/>
<rect x="248" y="813" width="1" height="3" fill="#000"/>
<rect x="312" y="813" width="1" height="3" fill="#000"/>
<rect x="376" y="813" width="1" height="3" fill="#000"/>
<rect x="440" y="813" width="1" height="3" fill="#000"/>
<rect x="504" y="813" width="1" height="3" fill="#000"/>
<rect x="568" y="813" width="1" height="3" fill="#000"/>
<rect x="632" y="813" width="1" height="3" fill="#000"/>
<rect x="696" y="813" width="1" height="3" fill="#000"/>
<rect x="760" y="813" width="1" height="3" fill="#000"/>
<rect x="824" y="813" width="1" height="3" fill="#000"/>
<rect x="888" y="813" width="1" height="3" fill="#000"/>
<rect x="952" y="813" width="1" height="3" fill="#000"/>
<rect x="1016" y="813" width="1" height="3" fill="#000"/>
<rect x="1080" y="813" width="1" height="3" fill="#000"/>
<rect x="1144" y="813" width="1" height="3" fill="#000"/>
<rect x="1208" y="813" width="1" height="3" fill="#000"/>
</g>
<text x="-9.2" y="825" font-size="9.8" fill="#000" stroke="#000" stroke-width="0.25" text-anchor="start" textLength="41.9" lengthAdjust="spacingAndGlyphs" >5 Jul 2022</text>
<text x="55" y="825" font-size="9.8" fill="#000" stroke="#000" stroke-width="0.25" text-anchor="start" textLength="45" lengthAdjust="spacingAndGlyphs" >6 Jul 08:00</text>
<text x="119" y="825" font-size="9.8" fill="#000" stroke="#000" stroke-width="0.25" text-anchor="start" textLength="45" lengthAdjust="spacingAndGlyphs" >7 Jul 00:00</text>
<text x="183" y="825" font-size="9.8" fill="#000" stroke="#000" stroke-width="0.25" text-anchor="start" textLength="45" lengthAdjust="spacingAndGlyphs" >7 Jul 16:00</text>
<text x="247" y="825" font-size="9.8" fill="#000" stroke="#000" stroke-width="0.25" text-anchor="start" textLength="45" lengthAdjust="spacingAndGlyphs" >8 Jul 08:00</text>
<text x="311" y="825" font-size="9.8" fill="#000" stroke="#000" stroke-width="0.25" text-anchor="start" textLength="50" lengthAdjust="spacingAndGlyphs" >11 Jul 00:00</text>
<text x="375" y="825" font-size="9.8" fill="#000" stroke="#000" stroke-width="0.25" text-anchor="start" textLength="50" lengthAdjust="spacingAndGlyphs" >11 Jul 16:00</text>
<text x="439" y="825" font-size="9.8" fill="#000" stroke="#000" stroke-width="0.25" text-anchor="start" textLength="50" lengthAdjust="spacingAndGlyphs" >12 Jul 08:00</text>
<text x="503" y="825" font-size="9.8" fill="#000" stroke="#000" stroke-width="0.25" text-anchor="start" textLength="50" lengthAdjust="spacingAndGlyphs" >13 Jul 00:00</text>
<text x="567" y="825" font-size="9.8" fill="#000" stroke="#000" stroke-width="0.25" text-anchor="start" textLength="50" lengthAdjust="spacingAndGlyphs" >13 Jul 16:00</text>
<text x="631" y="825" font-size="9.8" fill="#000" stroke="#000" stroke-width="0.25" text-anchor="start" textLength="50" lengthAdjust="spacingAndGlyphs" >14 Jul 08:00</text>
<text x="695" y="825" font-size="9.8" fill="#000" stroke="#000" stroke-width="0.25" text-anchor="start" textLength="50" lengthAdjust="spacingAndGlyphs" >15 Jul 00:00</text>
<text x="759" y="825" font-size="9.8" fill="#000" stroke="#000" stroke-width="0.25" text-anchor="start" textLength="50" lengthAdjust="spacingAndGlyphs" >15 Jul 16:00</text>
<text x="823" y="825" font-size="9.8" fill="#000" stroke="#000" stroke-width="0.25" text-anchor="start" textLength="50" lengthAdjust="spacingAndGlyphs" >18 Jul 08:00</text>
<text x="887" y="825" font-size="9.8" fill="#000" stroke="#000" stroke-width="0.25" text-anchor="start" textLength="50" lengthAdjust="spacingAndGlyphs" >19 Jul 00:00</text>
<text x="951" y="825" font-size="9.8" fill="#000" stroke="#000" stroke-width="0.25" text-anchor="start" textLength="50" lengthAdjust="spacingAndGlyphs" >19 Jul 16:00</text>
<text x="1015" y="825" font-size="9.8" fill="#000" stroke="#000" stroke-width="0.25" text-anchor="start" textLength="50" lengthAdjust="spacingAndGlyphs" >20 Jul 08:00</text>
<text x="1079" y="825" font-size="9.8" fill="#000" stroke="#000" stroke-width="0.25" text-anchor="start" textLength="50" lengthAdjust="spacingAndGlyphs" >21 Jul 00:00</text>
<text x="1143" y="825" font-size="9.8" fill="#000" stroke="#000" stroke-width="0.25" text-anchor="start" textLength="50" lengthAdjust="spacingAndGlyphs" >21 Jul 16:00</text>
<text x="1207" y="825" font-size="9.8" fill="#000" stroke="#000" stroke-width="0.25" text-anchor="start" textLength="50" lengthAdjust="spacingAndGlyphs" >22 Jul 08:00</text>
</g>
<g shape-rendering="crispEdges"><rect x="1275" y="26" width="9" height="1"/><rect x="1276" y="27" width="7" height="1"/><rect x="1277" y="28" width="5" height="1"/><rect x="1278" y="29" width="3" height="1"/><rect x="1279" y="30" width="1" height="1"/></g>
<polygon fill="#2e7d32" points="1157.0,85.5 1182.2,120.4 1204.2,150.9 1226.2,181.2 1239.4,199.5 1265.8,235.8 1277.6,251.9 1296.0,277.2 1321.7,312.0 1326.7,318.7 1323.3,321.2 1339.9,329.7 1336.5,311.4 1333.1,313.9 1328.1,307.3 1301.9,272.7 1282.9,248.0 1270.8,232.1 1243.4,196.5 1229.6,178.6 1206.8,149.0 1183.7,119.3 1157.4,85.3"/>
<defs>
<pattern id="dith" width="2" height="2" patternUnits="userSpaceOnUse"><rect width="2" height="2" fill="#f0f0f0"/><rect width="1" height="1" fill="#fff"/><rect x="1" y="1" width="1" height="1" fill="#fff"/></pattern>
<linearGradient id="gold" x1="0" y1="0" x2="1" y2="1"><stop offset="0" stop-color="#ffe680"/><stop offset=".5" stop-color="#f2c321"/><stop offset="1" stop-color="#c98a0a"/></linearGradient>
<linearGradient id="blu" x1="0" y1="0" x2="0" y2="1"><stop offset="0" stop-color="#3fa0f5"/><stop offset="1" stop-color="#0a4fb0"/></linearGradient>
<linearGradient id="lens" x1="0" y1="0" x2="0" y2="1"><stop offset="0" stop-color="#f2fbff"/><stop offset="1" stop-color="#bfe4fb"/></linearGradient>
<linearGradient id="grn" x1="0" y1="0" x2="1" y2="0"><stop offset="0" stop-color="#14b814"/><stop offset=".5" stop-color="#7df07d"/><stop offset="1" stop-color="#14b814"/></linearGradient>
<linearGradient id="badge" x1="0" y1="0" x2="0" y2="1"><stop offset="0" stop-color="#e8603a"/><stop offset="1" stop-color="#d81e05"/></linearGradient>
<linearGradient id="cloud" x1="0" y1="0" x2="0" y2="1"><stop offset="0" stop-color="#ffffff"/><stop offset="1" stop-color="#c4d3ee"/></linearGradient>
</defs>
<g shape-rendering="crispEdges">
<rect x="0" y="0" width="1649" height="20" fill="#f0f0f0"/>
<rect x="0" y="20" width="1649" height="1" fill="#f6f6f6"/>
<rect x="0" y="21" width="1649" height="1" fill="#a0a0a0"/>
<rect x="0" y="22" width="1649" height="1" fill="#696969"/>
<rect x="239" y="0" width="24" height="19" fill="url(#dith)"/>
<rect x="391" y="0" width="24" height="19" fill="url(#dith)"/>
<rect x="419" y="0" width="24" height="19" fill="url(#dith)"/>
<rect x="579" y="0" width="24" height="19" fill="url(#dith)"/>
<rect x="1025" y="0" width="24" height="19" fill="url(#dith)"/>
<rect x="200" y="0" width="1" height="19" fill="#a0a0a0"/>
<rect x="201" y="0" width="1" height="19" fill="#fff"/>
<rect x="568" y="0" width="1" height="19" fill="#a0a0a0"/>
<rect x="569" y="0" width="1" height="19" fill="#fff"/>
<rect x="874" y="0" width="1" height="19" fill="#a0a0a0"/>
<rect x="875" y="0" width="1" height="19" fill="#fff"/>
<rect x="1135" y="0" width="1" height="19" fill="#a0a0a0"/>
<rect x="1136" y="0" width="1" height="19" fill="#fff"/>
<rect x="238" y="0" width="1" height="19" fill="#a0a0a0"/>
<rect x="295" y="0" width="1" height="19" fill="#a0a0a0"/>
<rect x="385" y="0" width="1" height="19" fill="#a0a0a0"/>
<rect x="390" y="0" width="1" height="19" fill="#a0a0a0"/>
<rect x="418" y="0" width="1" height="19" fill="#a0a0a0"/>
<rect x="447" y="0" width="1" height="19" fill="#a0a0a0"/>
<rect x="578" y="0" width="1" height="19" fill="#a0a0a0"/>
<rect x="635" y="0" width="1" height="19" fill="#a0a0a0"/>
<rect x="1024" y="0" width="1" height="19" fill="#a0a0a0"/>
<rect x="204" y="1" width="3" height="1" fill="#a8a8a8"/>
<rect x="204" y="3" width="3" height="1" fill="#a8a8a8"/>
<rect x="204" y="5" width="3" height="1" fill="#a8a8a8"/>
<rect x="204" y="7" width="3" height="1" fill="#a8a8a8"/>
<rect x="204" y="9" width="3" height="1" fill="#a8a8a8"/>
<rect x="204" y="11" width="3" height="1" fill="#a8a8a8"/>
<rect x="204" y="13" width="3" height="1" fill="#a8a8a8"/>
<rect x="204" y="15" width="3" height="1" fill="#a8a8a8"/>
<rect x="204" y="17" width="3" height="1" fill="#a8a8a8"/>
<rect x="572" y="1" width="3" height="1" fill="#a8a8a8"/>
<rect x="572" y="3" width="3" height="1" fill="#a8a8a8"/>
<rect x="572" y="5" width="3" height="1" fill="#a8a8a8"/>
<rect x="572" y="7" width="3" height="1" fill="#a8a8a8"/>
<rect x="572" y="9" width="3" height="1" fill="#a8a8a8"/>
<rect x="572" y="11" width="3" height="1" fill="#a8a8a8"/>
<rect x="572" y="13" width="3" height="1" fill="#a8a8a8"/>
<rect x="572" y="15" width="3" height="1" fill="#a8a8a8"/>
<rect x="572" y="17" width="3" height="1" fill="#a8a8a8"/>
<rect x="878" y="1" width="3" height="1" fill="#a8a8a8"/>
<rect x="878" y="3" width="3" height="1" fill="#a8a8a8"/>
<rect x="878" y="5" width="3" height="1" fill="#a8a8a8"/>
<rect x="878" y="7" width="3" height="1" fill="#a8a8a8"/>
<rect x="878" y="9" width="3" height="1" fill="#a8a8a8"/>
<rect x="878" y="11" width="3" height="1" fill="#a8a8a8"/>
<rect x="878" y="13" width="3" height="1" fill="#a8a8a8"/>
<rect x="878" y="15" width="3" height="1" fill="#a8a8a8"/>
<rect x="878" y="17" width="3" height="1" fill="#a8a8a8"/>
<rect x="218" y="3" width="1" height="14" fill="#505050"/>
<rect x="217" y="4" width="3" height="1" fill="#505050"/>
<rect x="216" y="14" width="14" height="1" fill="#505050"/>
<rect x="228" y="13" width="1" height="3" fill="#505050"/>
<rect x="224" y="4" width="1" height="9" fill="#0a9a0a"/><rect x="225" y="5" width="2" height="1" fill="#0a9a0a"/><rect x="222" y="11" width="2" height="1" fill="#0a9a0a"/>
<rect x="246" y="3" width="1" height="14" fill="#505050"/>
<rect x="245" y="4" width="3" height="1" fill="#505050"/>
<rect x="244" y="14" width="14" height="1" fill="#505050"/>
<rect x="256" y="13" width="1" height="3" fill="#505050"/>
<rect x="252" y="1" width="1" height="12" fill="#0a9a0a"/>
<rect x="250" y="3" width="5" height="8" fill="#0a9a0a"/><rect x="251" y="4" width="3" height="6" fill="#5fe85f"/>
<rect x="274" y="3" width="1" height="14" fill="#505050"/>
<rect x="273" y="4" width="3" height="1" fill="#505050"/>
<rect x="272" y="14" width="14" height="1" fill="#505050"/>
<rect x="284" y="13" width="1" height="3" fill="#505050"/>
<rect x="398" y="3" width="1" height="14" fill="#505050"/>
<rect x="397" y="4" width="3" height="1" fill="#505050"/>
<rect x="396" y="14" width="14" height="1" fill="#505050"/>
<rect x="408" y="13" width="1" height="3" fill="#505050"/>
<rect x="426" y="3" width="1" height="14" fill="#505050"/>
<rect x="425" y="4" width="3" height="1" fill="#505050"/>
<rect x="424" y="14" width="14" height="1" fill="#505050"/>
<rect x="436" y="13" width="1" height="3" fill="#505050"/>
<rect x="432" y="3" width="1" height="10" fill="#1a6aa8"/>
<path d="M479 8h5v1h-1v1h-1v1h-1v-1h-1v-1h-1z" fill="#000"/>
<path d="M518 8h5v1h-1v1h-1v1h-1v-1h-1v-1h-1z" fill="#000"/>
<path d="M557 8h5v1h-1v1h-1v1h-1v-1h-1v-1h-1z" fill="#000"/>
<path d="M863 8h5v1h-1v1h-1v1h-1v-1h-1v-1h-1z" fill="#000"/>
<rect x="618" y="2" width="1" height="6" fill="#505050"/><rect x="618" y="11" width="1" height="6" fill="#505050"/>
<rect x="611" y="9" width="6" height="1" fill="#505050"/><rect x="620" y="9" width="6" height="1" fill="#505050"/>
<rect x="618" y="9" width="1" height="1" fill="#505050"/>
<rect x="652" y="3" width="1" height="13" fill="#505050"/>
<rect x="675" y="9" width="12" height="1" fill="#505050"/>
<rect x="758" y="2" width="1" height="1" fill="#505050"/>
<rect x="760" y="2" width="1" height="1" fill="#505050"/>
<rect x="762" y="2" width="1" height="1" fill="#505050"/>
<rect x="764" y="2" width="1" height="1" fill="#505050"/>
<rect x="766" y="2" width="1" height="1" fill="#505050"/>
<rect x="768" y="2" width="1" height="1" fill="#505050"/>
<rect x="770" y="2" width="1" height="1" fill="#505050"/>
<rect x="758" y="5" width="1" height="1" fill="#505050"/>
<rect x="760" y="5" width="1" height="1" fill="#505050"/>
<rect x="762" y="5" width="1" height="1" fill="#505050"/>
<rect x="764" y="5" width="1" height="1" fill="#505050"/>
<rect x="766" y="5" width="1" height="1" fill="#505050"/>
<rect x="768" y="5" width="1" height="1" fill="#505050"/>
<rect x="770" y="5" width="1" height="1" fill="#505050"/>
<rect x="758" y="9" width="1" height="1" fill="#505050"/>
<rect x="760" y="9" width="1" height="1" fill="#505050"/>
<rect x="762" y="9" width="1" height="1" fill="#505050"/>
<rect x="764" y="9" width="1" height="1" fill="#505050"/>
<rect x="766" y="9" width="1" height="1" fill="#505050"/>
<rect x="768" y="9" width="1" height="1" fill="#505050"/>
<rect x="770" y="9" width="1" height="1" fill="#505050"/>
<rect x="758" y="13" width="1" height="1" fill="#505050"/>
<rect x="760" y="13" width="1" height="1" fill="#505050"/>
<rect x="762" y="13" width="1" height="1" fill="#505050"/>
<rect x="764" y="13" width="1" height="1" fill="#505050"/>
<rect x="766" y="13" width="1" height="1" fill="#505050"/>
<rect x="815" y="3" width="1" height="1" fill="#505050"/><rect x="815" y="15" width="1" height="1" fill="#505050"/>
<rect x="817" y="3" width="1" height="1" fill="#505050"/><rect x="817" y="15" width="1" height="1" fill="#505050"/>
<rect x="819" y="3" width="1" height="1" fill="#505050"/><rect x="819" y="15" width="1" height="1" fill="#505050"/>
<rect x="821" y="3" width="1" height="1" fill="#505050"/><rect x="821" y="15" width="1" height="1" fill="#505050"/>
<rect x="823" y="3" width="1" height="1" fill="#505050"/><rect x="823" y="15" width="1" height="1" fill="#505050"/>
<rect x="825" y="3" width="1" height="1" fill="#505050"/><rect x="825" y="15" width="1" height="1" fill="#505050"/>
<rect x="815" y="3" width="1" height="1" fill="#505050"/><rect x="826" y="3" width="1" height="1" fill="#505050"/>
<rect x="815" y="5" width="1" height="1" fill="#505050"/><rect x="826" y="5" width="1" height="1" fill="#505050"/>
<rect x="815" y="7" width="1" height="1" fill="#505050"/><rect x="826" y="7" width="1" height="1" fill="#505050"/>
<rect x="815" y="9" width="1" height="1" fill="#505050"/><rect x="826" y="9" width="1" height="1" fill="#505050"/>
<rect x="815" y="11" width="1" height="1" fill="#505050"/><rect x="826" y="11" width="1" height="1" fill="#505050"/>
<rect x="815" y="13" width="1" height="1" fill="#505050"/><rect x="826" y="13" width="1" height="1" fill="#505050"/>
<rect x="815" y="15" width="1" height="1" fill="#505050"/><rect x="826" y="15" width="1" height="1" fill="#505050"/>
<rect x="817" y="6" width="8" height="1" fill="#505050"/><rect x="820" y="6" width="2" height="8" fill="#505050"/>
</g>
<path d="M273 11.8 C275.5 10 277 6.2 279.2 6.3 C281.5 6.4 282.5 9.5 284.8 10" fill="none" stroke="#2a9a2a" stroke-width="1.2"/>
<path d="M403.3 5.3 L407 8.6 L403.3 11.8 Z" fill="#8fe88f" stroke="#12a012" stroke-width="1"/>
<path d="M438 8.5 H434" stroke="#d04000" stroke-width="1.2" fill="none"/><path d="M433.2 8.5 L436.4 6 L436 8.5 L436.4 11 Z" fill="#d04000"/>
<path d="M586.1 1.9 L586.1 12.9 L588.4 11 L591 16.2 L593 15.2 L590.7 10.3 L594.1 9.9 Z" fill="#505050"/>
<path d="M703 15.7 L715 4.2" stroke="#505050" stroke-width="1" fill="none"/>
<path d="M729 10.7 L737.2 2.8 M734 15.7 L743 7.2" stroke="#505050" stroke-width="1" fill="none"/>
<path d="M731.6 14.6 L734.2 6.4 M734.8 13 L737.6 4.6 M738.2 10.6 L740.6 1.4" stroke="#505050" stroke-width="1.1" fill="none"/>
<text x="739.6" y="17.9" font-size="7" font-weight="bold" fill="#505050" text-rendering="auto" font-family='"Liberation Sans", "Noto Sans CJK SC", sans-serif'>E</text>
<text x="767.4" y="17.9" font-size="7" font-weight="bold" fill="#505050" text-rendering="auto" font-family='"Liberation Sans", "Noto Sans CJK SC", sans-serif'>F</text>
<text x="788.9" y="13.9" font-size="12.4" textLength="7.7" lengthAdjust="spacingAndGlyphs" fill="#505050" stroke="#505050" stroke-width=".25" font-family='"Liberation Sans", "Noto Sans CJK SC", sans-serif'>A</text>
<path d="M845.3 2.6 L848.6 6 L845.3 7.8 L842 6 Z" fill="#505050"/>
<path d="M852.5 16.2 L849.2 12.8 L852.5 11 L855.8 12.8 Z" fill="#505050"/>
<path d="M844 10.6 L846.6 12.8 L850.8 7.4" stroke="#505050" stroke-width="1.3" fill="none"/>
<path d="M41 10 L49.2 15.6 L56.8 10.4 L56.8 12 Q56.8 12.6 56.2 13 L49.8 17.2 Q49.2 17.5 48.6 17.1 L41.4 12 Q41 11.6 41 11 Z" fill="#b87c0c"/>
<path d="M46.4 2.6 Q47.2 1.8 48.2 2.6 L56.4 9.6 Q57 10.3 56.2 10.9 L49.8 15.2 Q49.2 15.6 48.6 15.2 L41.4 10.2 Q40.6 9.6 41.4 8.8 Z" fill="url(#gold)" stroke="#b07810" stroke-width=".7"/>
<path d="M46.6 3.4 L42.2 9.2" fill="none" stroke="#fff6c0" stroke-width="1" opacity=".9"/>
<path d="M71.2 2.4 L75 1.2 L82 2 L82 11 L71.2 11 Z" fill="url(#blu)"/>
<path d="M75 1.2 L82 2 L82 11 L75 11 Z" fill="#4ba6f8" opacity=".55"/>
<path d="M75 1.4 L75 11" stroke="#d6ecff" stroke-width=".8"/><path d="M76.8 6 L80.6 5.2" stroke="#f0f8ff" stroke-width="1.3"/>
<path d="M72.2 16.8 C68.4 16.8 68.2 12.4 71.4 12 C71.2 9.2 75.2 8.6 76.4 10.6 C78 8.8 81.6 9.6 81.4 12 C85.4 11.4 86.2 16.8 82.4 16.8 Z" fill="url(#cloud)" stroke="#4c74b8" stroke-width=".9"/>
<g fill="none" stroke-linecap="round">
<path d="M106.2 15.9 A7.3 7.3 0 1 1 112.1 7.6" stroke="#8fa9e6" stroke-width="1.1" opacity=".85"/>
<path d="M112.2 8.7 A7.3 7.3 0 0 1 106.4 15.8" stroke="#4aa84a" stroke-width="1.9" opacity=".85"/>
<path d="M103.6 12.7 A4.3 4.3 0 1 1 109.2 8.2" stroke="#5580de" stroke-width="1.2" opacity=".9"/>
<path d="M109.2 8.9 A4.3 4.3 0 0 1 106.4 12.7" stroke="#5cb25c" stroke-width="1.5" opacity=".8"/>
</g>
<circle cx="104.9" cy="8.5" r="1.7" fill="#2f5fd8"/>
<path d="M105.3 9.6 V16.4" stroke="#1faa1f" stroke-width="1.5"/>
<path d="M124.8 7 L139 7 L139 9.4 L132.4 16.6 L131.2 16.6 L124.8 9.4 Z" fill="#f6d23e" stroke="#c79a12" stroke-width=".7"/>
<path d="M126 8.6 L131.8 15 L131.8 8.6 Z" fill="#fbe88a" opacity=".8"/>
<ellipse cx="131.9" cy="6" rx="7.9" ry="2.5" fill="#3f96e2"/>
<path d="M127.4 5.8 C127 0 136.8 0 136.4 5.8 Z" fill="#62b6f0"/>
<path d="M124.4 6.4 Q131.9 10 139.4 6.4" fill="none" stroke="#2a78c0" stroke-width=".8"/>
<circle cx="136.5" cy="12.7" r="4.1" fill="#e01808"/><rect x="135" y="11.2" width="3" height="3" fill="#fff"/>
<path d="M313.8 10.6 L319.2 15.4" stroke="#a07808" stroke-width="3.6" stroke-linecap="butt"/>
<path d="M314.0 10.8 L318.8 15" stroke="#f0d030" stroke-width="2" stroke-linecap="butt"/>
<circle cx="310.2" cy="6.9" r="5.5" fill="url(#lens)" stroke="#2f72c4" stroke-width="1.2"/>
<path d="M307.2 6.9 H313.2" stroke="#3d82a8" stroke-width="1.8"/>
<path d="M310.2 3.9 V9.9" stroke="#3d82a8" stroke-width="1.8"/>
<path d="M341.70000000000005 10.6 L347.1 15.4" stroke="#a07808" stroke-width="3.6" stroke-linecap="butt"/>
<path d="M341.90000000000003 10.8 L346.70000000000005 15" stroke="#f0d030" stroke-width="2" stroke-linecap="butt"/>
<circle cx="338.1" cy="6.9" r="5.5" fill="url(#lens)" stroke="#2f72c4" stroke-width="1.2"/>
<path d="M335.1 6.9 H341.1" stroke="#3d82a8" stroke-width="1.8"/>
<rect x="360" y="1" width="8" height="8" fill="#2c9a14"/>
<path d="M361.2 8 V4 H366.8 V8 H365.6 V6.8 H362.4 V8 Z" fill="#fff"/>
<rect x="362.4" y="5" width="3.2" height=".8" fill="#2c9a14" opacity=".45"/>
<rect x="361.4" y="2" width="1" height="1" fill="#fff" opacity=".85"/>
<rect x="368" y="1" width="8" height="8" fill="#1c4fc6"/>
<path d="M369.2 8 V4 H374.8 V8 H373.6 V6.8 H370.4 V8 Z" fill="#fff"/>
<rect x="370.4" y="5" width="3.2" height=".8" fill="#1c4fc6" opacity=".45"/>
<rect x="369.4" y="2" width="1" height="1" fill="#fff" opacity=".85"/>
<rect x="360" y="9" width="8" height="8" fill="#1c4fc6"/>
<path d="M361.2 16 V12 H366.8 V16 H365.6 V14.8 H362.4 V16 Z" fill="#fff"/>
<rect x="362.4" y="13" width="3.2" height=".8" fill="#1c4fc6" opacity=".45"/>
<rect x="361.4" y="10" width="1" height="1" fill="#fff" opacity=".85"/>
<rect x="368" y="9" width="8" height="8" fill="#2c9a14"/>
<path d="M369.2 16 V12 H374.8 V16 H373.6 V14.8 H370.4 V16 Z" fill="#fff"/>
<rect x="370.4" y="13" width="3.2" height=".8" fill="#2c9a14" opacity=".45"/>
<rect x="369.4" y="10" width="1" height="1" fill="#fff" opacity=".85"/>
<path d="M457.6 2.2 Q457.6 1.4 458.4 1.4 L465.6 1.4 L468.2 4 L468.2 14 Q468.2 14.8 467.4 14.8 L458.4 14.8 Q457.6 14.8 457.6 14 Z" fill="#fcfcfc" stroke="#8c8c8c" stroke-width=".9"/>
<path d="M465.6 1.4 L465.6 4 L468.2 4" fill="#e4e4e4" stroke="#8c8c8c" stroke-width=".7"/>
<text x="459.6" y="11.6" font-size="9" font-style="italic" fill="#4a3c20" font-family='"Liberation Serif", serif'>f</text>
<path d="M465.3 7.4 H469 V11 H472.6 V14.8 H469 V18.4 H465.3 V14.8 H461.6 V11 H465.3 Z" fill="url(#grn)" stroke="#0d8f0d" stroke-width=".9"/>
<circle cx="503" cy="8.8" r="6.6" fill="#eef1f6" stroke="url(#blu)" stroke-width="2.7"/>
<circle cx="503" cy="8.8" r="7.9" fill="none" stroke="#0b4aa8" stroke-width=".5"/>
<circle cx="503" cy="8.8" r="5.2" fill="none" stroke="#c8ccd4" stroke-width=".6" stroke-dasharray=".7 2"/>
<path d="M502.8 5.2 V9 L505.8 9.8" fill="none" stroke="#2a2a2a" stroke-width="1.1"/>
<path d="M501.8 12.2 h2.4" stroke="#5aa0f0" stroke-width=".8"/>
<rect x="534.6" y="2.6" width="15" height="12.8" fill="#fff" stroke="#3a78c8" stroke-width="1.2"/>
<rect x="534" y="2" width="16.2" height="2.4" fill="#4c8ee0"/>
<path d="M535 9.6 H549.6" stroke="#3a78c8" stroke-width="1"/>
<path d="M536.4 7.4 L538 7.4 L539.4 6.4 L541 6.4 L542.2 5.6 L543.6 6.6 L545.4 6.6 L546.8 5.6 L548.2 5.6" fill="none" stroke="#a02408" stroke-width="1.1"/>
<path d="M536.8 12.6 L538.4 12.6 L539.8 11.8 L541.2 12.8 L542.6 12.4 L544.2 10.6 L545.4 10.8 L546.6 12.2 L548 13" fill="none" stroke="#128c28" stroke-width="1.1"/>
<path d="M1598.2 13.6 L1602.6 8.8" stroke="#2a5fc8" stroke-width="2.4" stroke-linecap="round"/>
<circle cx="1605.4" cy="6.4" r="3.9" fill="#fafcff" stroke="#2f66d0" stroke-width="1.3"/>
<path d="M1627.4 6.4 C1623 6.4 1621.6 9 1622.4 11.4 C1623 13.4 1624.6 14.4 1626 14.6 L1625.6 17.4 L1628.6 14.8 C1632 14.8 1634.4 13.6 1634.6 10.8 C1634.8 8 1632 6.4 1627.4 6.4 Z" fill="#f4f5fa" stroke="#b9bac0" stroke-width=".9"/>
<circle cx="1636.2" cy="5.8" r="8.3" fill="url(#badge)"/>
<text x="1636.2" y="11" font-size="13.5" fill="#fff" text-anchor="middle" font-family='"Liberation Sans", "Noto Sans CJK SC", sans-serif'>1</text>
<g font-family='"Liberation Sans", "Noto Sans CJK SC", sans-serif' fill="#000" stroke="#000" stroke-width=".2">
<text x="-6.6" y="11.8" font-size="12" textLength="35.6" lengthAdjust="spacingAndGlyphs">新订单</text>
<text x="145.2" y="11.8" font-size="12" textLength="47" lengthAdjust="spacingAndGlyphs">自动交易</text>
</g>
<g font-family='"Liberation Sans", "Noto Sans CJK SC", sans-serif' fill="#3c3c3c" stroke="#3c3c3c" stroke-width=".15" font-size="10">
<text x="889.6" y="13" textLength="12.5" lengthAdjust="spacingAndGlyphs">M1</text>
<text x="917.6" y="13" textLength="12.7" lengthAdjust="spacingAndGlyphs">M5</text>
<text x="943.7" y="13" textLength="17.5" lengthAdjust="spacingAndGlyphs">M15</text>
<text x="971.5" y="13" textLength="17.7" lengthAdjust="spacingAndGlyphs">M30</text>
<text x="1002.5" y="13" textLength="11.5" lengthAdjust="spacingAndGlyphs">H1</text>
<text x="1029.5" y="13" textLength="12.2" lengthAdjust="spacingAndGlyphs">H4</text>
<text x="1058.7" y="13" textLength="11.5" lengthAdjust="spacingAndGlyphs">D1</text>
<text x="1086" y="13" textLength="14.0" lengthAdjust="spacingAndGlyphs">W1</text>
<text x="1112.6" y="13" textLength="14.6" lengthAdjust="spacingAndGlyphs">MN</text>
</g>
</svg>
</body>
</html>
